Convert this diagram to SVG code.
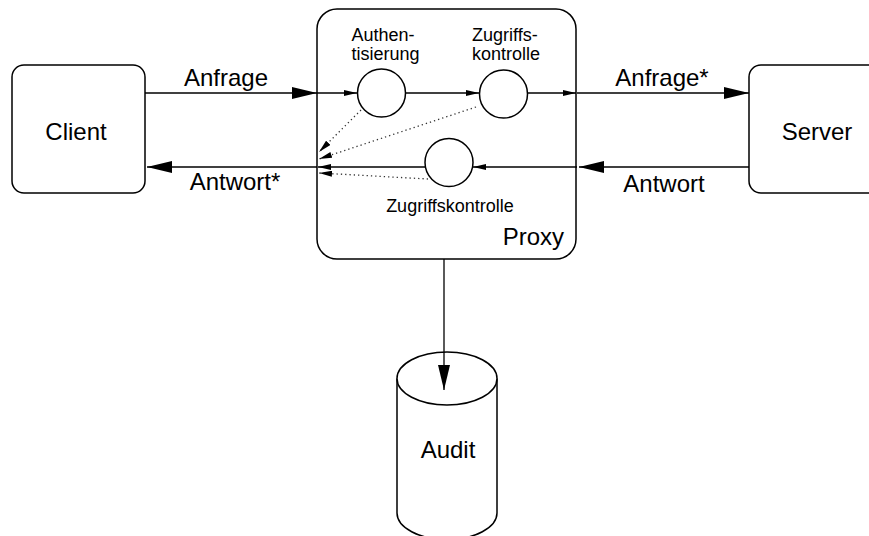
<svg xmlns="http://www.w3.org/2000/svg" width="869" height="536" viewBox="0 0 869 536">
<style>
.box{fill:#fff;stroke:#000;stroke-width:1.5}
.node{fill:#fff;stroke:#000;stroke-width:1.5}
.ln{fill:none;stroke:#000;stroke-width:1.3}
.dot{fill:none;stroke:#333;stroke-width:1.3;stroke-dasharray:1.3 3}
.lbl{font-family:"Liberation Sans",Arial,sans-serif;font-size:24px;fill:#000}
.sm{font-family:"Liberation Sans",Arial,sans-serif;font-size:18px;fill:#000}
</style>
<defs>
<marker id="big" viewBox="0 0 25 12" refX="25" refY="6" markerWidth="25" markerHeight="12" markerUnits="userSpaceOnUse" orient="auto">
<path d="M0,0 L25,6 L0,12 z" fill="#000"/>
</marker>
<marker id="small" viewBox="0 0 13 6" refX="13" refY="3" markerWidth="13" markerHeight="6" markerUnits="userSpaceOnUse" orient="auto">
<path d="M0,0 L13,3 L0,6 z" fill="#000"/>
</marker>
</defs>
<g id="client">
<rect class="box" x="12" y="65" width="133" height="128" rx="12"/>
<text class="lbl" x="76" y="140" text-anchor="middle">Client</text>
</g>
<g id="server">
<rect class="box" x="749" y="65" width="140" height="128" rx="12"/>
<text class="lbl" x="817" y="140" text-anchor="middle">Server</text>
</g>
<g id="proxy">
<rect class="box" x="317" y="9" width="259" height="250" rx="20"/>
<text class="lbl" x="564" y="245" text-anchor="end">Proxy</text>
</g>
<g id="auth">
<circle class="node" cx="381.5" cy="93" r="24"/>
<text class="sm" x="351.5" y="40.5">Authen-</text>
<text class="sm" x="351.5" y="59.5">tisierung</text>
</g>
<g id="zk1">
<circle class="node" cx="503.5" cy="94" r="24"/>
<text class="sm" x="472" y="40.5">Zugriffs-</text>
<text class="sm" x="472" y="59.5">kontrolle</text>
</g>
<g id="zk2">
<circle class="node" cx="449" cy="162.5" r="24"/>
<text class="sm" x="450" y="211.5" text-anchor="middle">Zugriffskontrolle</text>
</g>
<g id="audit">
<path class="node" d="M397,378.5 L397,513 A50,26.5 0 0 0 497,513 L497,378.5"/>
<ellipse class="node" cx="447" cy="378.5" rx="50" ry="26.5"/>
<text class="lbl" x="448" y="458" text-anchor="middle">Audit</text>
</g>
<g id="connectors">
<path class="ln" d="M145,93 L317,93" marker-end="url(#big)"/>
<text class="lbl" x="226" y="86" text-anchor="middle">Anfrage</text>
<path class="ln" d="M317,93 L357,93" marker-end="url(#small)"/>
<path class="ln" d="M406,93 L479,93" marker-end="url(#small)"/>
<path class="ln" d="M528,93 L576,93" marker-end="url(#small)"/>
<path class="ln" d="M577,93 L749,93" marker-end="url(#big)"/>
<text class="lbl" x="662" y="86" text-anchor="middle">Anfrage*</text>
<path class="ln" d="M749,167 L579,167" marker-end="url(#big)"/>
<text class="lbl" x="664" y="191.5" text-anchor="middle">Antwort</text>
<path class="ln" d="M577,167 L473,167" marker-end="url(#small)"/>
<path class="ln" d="M425,167 L318,167" marker-end="url(#small)"/>
<path class="ln" d="M317,167 L147,167" marker-end="url(#big)"/>
<text class="lbl" x="235" y="190" text-anchor="middle">Antwort*</text>
<path class="dot" d="M361,110 L319,152" marker-end="url(#small)"/>
<path class="dot" d="M476,107 L319,159" marker-end="url(#small)"/>
<path class="dot" d="M428,179 L319,173" marker-end="url(#small)"/>
<path class="ln" d="M444,259 L444,390" marker-end="url(#big)"/>
</g>
</svg>
